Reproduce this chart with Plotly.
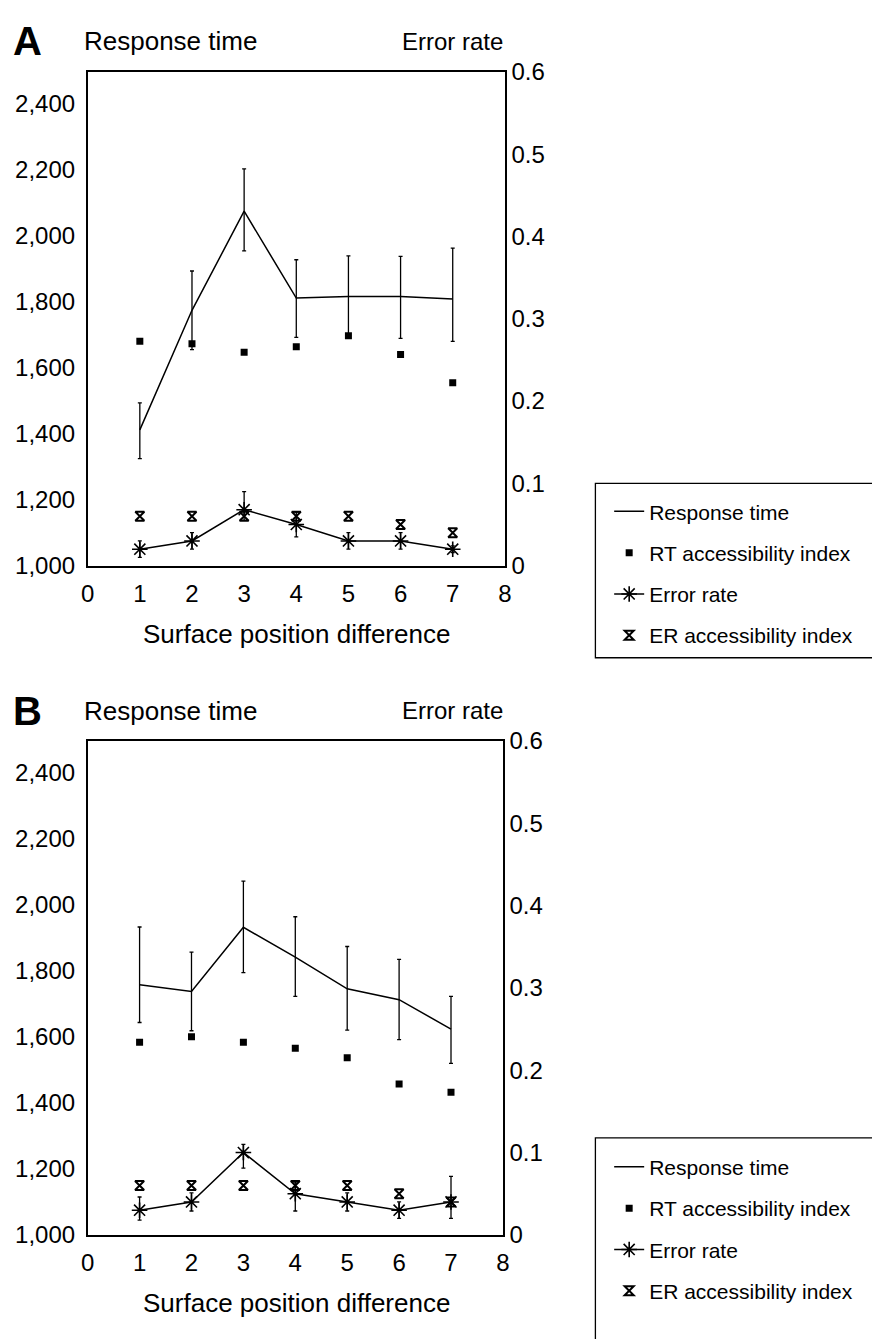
import plotly.graph_objects as go

W, H = 872, 1339
FONT = "Liberation Sans"

x = [1, 2, 3, 4, 5, 6, 7]

# Panel A
rt_a = [1411, 1773, 2073, 1810, 1815, 1815, 1807]
rt_a_up = [82, 119, 128, 116, 123, 121, 154]
rt_a_dn = [87, 119, 120, 119, 116, 127, 128]
rti_a = [1679, 1672, 1646, 1663, 1696, 1639, 1554]
er_a = [0.02, 0.03, 0.068, 0.05, 0.03, 0.03, 0.02]
er_a_up = [0.01, 0.01, 0.022, 0.015, 0.01, 0.01, 0.004]
er_a_dn = [0.01, 0.01, 0.013, 0.015, 0.01, 0.01, 0.004]
eri_a = [0.06, 0.06, 0.06, 0.06, 0.06, 0.05, 0.04]

# Panel B
rt_b = [1757, 1737, 1931, 1841, 1745, 1712, 1623]
rt_b_up = [175, 119, 140, 122, 128, 122, 99]
rt_b_dn = [114, 119, 137, 119, 125, 121, 104]
rti_b = [1583, 1600, 1583, 1565, 1536, 1457, 1432]
er_b = [0.03, 0.04, 0.10, 0.05, 0.04, 0.03, 0.04]
er_b_up = [0.016, 0.011, 0.010, 0.014, 0.011, 0.010, 0.031]
er_b_dn = [0.012, 0.011, 0.019, 0.021, 0.011, 0.010, 0.020]
eri_b = [0.06, 0.06, 0.06, 0.06, 0.06, 0.05, 0.04]

names = ["Response time", "RT accessibility index", "Error rate", "ER accessibility index"]
rt_ticks = [1000, 1200, 1400, 1600, 1800, 2000, 2200, 2400]
er_ticks = [0, 0.1, 0.2, 0.3, 0.4, 0.5, 0.6]
er_text = ["0", "0.1", "0.2", "0.3", "0.4", "0.5", "0.6"]
x_ticks = list(range(0, 9))

fig = go.Figure()


def add_panel(xa, ya_l, ya_r, leg, rt, up, dn, rti, er, eup, edn, eri, grp):
    fig.add_trace(go.Scatter(
        x=x, y=rt, mode="lines", name=names[0], xaxis=xa, yaxis=ya_l,
        line=dict(color="black", width=1.5),
        error_y=dict(type="data", symmetric=False, array=up, arrayminus=dn,
                     color="black", thickness=1.3, width=2),
        legend=leg, legendgroup=grp + "1"))
    fig.add_trace(go.Scatter(
        x=x, y=rti, mode="markers", name=names[1], xaxis=xa, yaxis=ya_l,
        marker=dict(symbol="square", size=7, color="black"),
        legend=leg, legendgroup=grp + "2"))
    fig.add_trace(go.Scatter(
        x=x, y=er, mode="lines+markers", name=names[2], xaxis=xa, yaxis=ya_r,
        line=dict(color="black", width=1.5),
        marker=dict(symbol="asterisk-open", size=13, color="black",
                    line=dict(color="black", width=1.6)),
        error_y=dict(type="data", symmetric=False, array=eup, arrayminus=edn,
                     color="black", thickness=1.3, width=2),
        legend=leg, legendgroup=grp + "3"))
    fig.add_trace(go.Scatter(
        x=x, y=eri, mode="markers", name=names[3], xaxis=xa, yaxis=ya_r,
        marker=dict(symbol="hourglass-open", size=9, color="black",
                    line=dict(color="black", width=2)),
        legend=leg, legendgroup=grp + "4"))


add_panel("x", "y", "y2", "legend", rt_a, rt_a_up, rt_a_dn, rti_a,
          er_a, er_a_up, er_a_dn, eri_a, "a")
add_panel("x2", "y3", "y4", "legend2", rt_b, rt_b_up, rt_b_dn, rti_b,
          er_b, er_b_up, er_b_dn, eri_b, "b")


def px(v):
    return v / W


def py(v):
    return 1 - v / H


tickfont = dict(family=FONT, size=24, color="black")
xcommon = dict(range=[0, 8], tickvals=x_ticks, showline=True, linecolor="black",
               linewidth=1.5, mirror=True, ticks="outside", ticklen=6,
               tickcolor="rgba(0,0,0,0)", showgrid=False, zeroline=False,
               tickfont=tickfont, fixedrange=True)
ylcommon = dict(range=[1000, 2495], tickvals=rt_ticks, tickformat=",d",
                showline=True, linecolor="black", linewidth=1.5, ticks="outside",
                ticklen=6, tickcolor="rgba(0,0,0,0)", showgrid=False,
                zeroline=False, tickfont=tickfont)
yrcommon = dict(range=[0, 0.6], tickvals=er_ticks, ticktext=er_text,
                showline=True, linecolor="black", linewidth=1.5, ticks="",
                showgrid=False, zeroline=False, tickfont=tickfont, side="right")

dom_xa = [px(82), px(506)]
dom_ya = [py(563), py(59)]
dom_xb = [px(82), px(504)]
dom_yb = [py(1246), py(742)]

legfont = dict(family=FONT, size=21, color="black")
fig.update_layout(
    width=W, height=H,
    margin=dict(l=0, r=0, t=0, b=0),
    paper_bgcolor="white", plot_bgcolor="white",
    font=dict(family=FONT, color="black"),
    xaxis=dict(domain=dom_xa, anchor="y", **xcommon),
    yaxis=dict(domain=dom_ya, anchor="x", **ylcommon),
    yaxis2=dict(domain=dom_ya, anchor="x", overlaying="y", **yrcommon),
    xaxis2=dict(domain=dom_xb, anchor="y3", **xcommon),
    yaxis3=dict(domain=dom_yb, anchor="x2", **ylcommon),
    yaxis4=dict(domain=dom_yb, anchor="x2", overlaying="y3", **yrcommon),
    legend=dict(x=px(612), y=py(487), xanchor="left", yanchor="top",
                font=legfont, bgcolor="rgba(0,0,0,0)", borderwidth=0,
                traceorder="grouped", tracegroupgap=11, itemwidth=30),
    legend2=dict(x=px(612), y=py(1156), xanchor="left", yanchor="top",
                 font=legfont, bgcolor="rgba(0,0,0,0)", borderwidth=0,
                 traceorder="grouped", tracegroupgap=11, itemwidth=30),
    showlegend=True,
)

shapes = [
    dict(type="rect", xref="paper", yref="paper", x0=px(598), x1=px(890),
         y0=py(657), y1=py(479), line=dict(color="black", width=1.3)),
    dict(type="rect", xref="paper", yref="paper", x0=px(598), x1=px(890),
         y0=py(1360), y1=py(1147), line=dict(color="black", width=1.3)),
]
fig.update_layout(shapes=shapes)

ann = []
for top, letter in [(28, "A"), (711, "B")]:
    ann.append(dict(text="<b>" + letter + "</b>", x=px(4), y=py(top), xref="paper",
                    yref="paper", xanchor="left", yanchor="middle", showarrow=False,
                    font=dict(family=FONT, size=40, color="black")))
    ann.append(dict(text="Response time", x=px(76), y=py(top), xref="paper",
                    yref="paper", xanchor="left", yanchor="middle", showarrow=False,
                    font=dict(family=FONT, size=26, color="black")))
    ann.append(dict(text="Error rate", x=px(506), y=py(top), xref="paper",
                    yref="paper", xanchor="right", yanchor="middle", showarrow=False,
                    font=dict(family=FONT, size=24, color="black")))
for yc in [633, 1316]:
    ann.append(dict(text="Surface position difference", x=px(294), y=py(yc),
                    xref="paper", yref="paper", xanchor="center", yanchor="middle",
                    showarrow=False, font=dict(family=FONT, size=26, color="black")))
fig.update_layout(annotations=ann)

fig.write_html("out.html")
